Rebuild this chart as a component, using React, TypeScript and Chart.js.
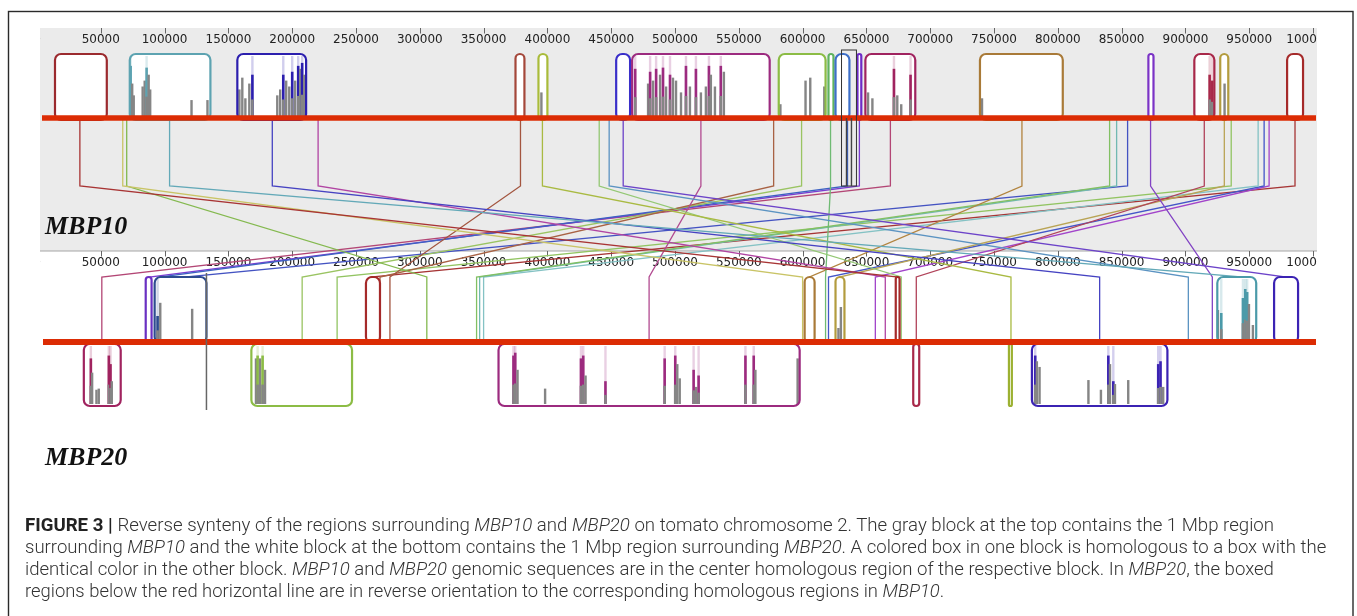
import React, { useEffect, useRef } from "react";
import { Chart, registerables } from "chart.js";
Chart.register(...registerables);

// ---------------- DATA ----------------
const TICK_VALUES = [0, 50000, 100000, 150000, 200000, 250000, 300000, 350000, 400000, 450000, 500000,
  550000, 600000, 650000, 700000, 750000, 800000, 850000, 900000, 950000, 1000000];

// Locally collinear blocks: [start bp, end bp, colour key]
const MBP10_BLOCKS: [number, number, string][] = [
  [14100, 54700, "darkred"],
  [72700, 135900, "teal"],
  [157000, 210900, "indigo"],
  [375000, 382000, "rust"],
  [393000, 400000, "yellowgreen"],
  [453900, 464800, "blue"],
  [466400, 574200, "magenta"],
  [581300, 618000, "green"],
  [620300, 624200, "mint"],
  [625800, 636700, "sky"],
  [643000, 646000, "purple"],
  [649200, 688300, "wine"],
  [739000, 803900, "brown"],
  [871000, 875000, "violet"],
  [907000, 922700, "crimson"],
  [927300, 933600, "olive"],
  [979700, 992200, "red"],
];
const MBP20_FORWARD_BLOCKS: [number, number, string][] = [
  [85200, 89800, "purpleB"],
  [92200, 132800, "navy"],
  [257800, 268800, "red"],
  [601600, 609400, "brown"],
  [625800, 632800, "olive"],
  [673000, 676000, "red"],
  [925000, 955500, "tealB"],
  [969500, 988300, "indigo2"],
];
const MBP20_REVERSE_BLOCKS: [number, number, string][] = [
  [36700, 65600, "wine"],
  [168000, 246900, "green"],
  [361700, 597700, "magenta"],
  [686700, 691400, "crimson"],
  [761700, 764000, "lime"],
  [779700, 885900, "indigo2"],
];

// similarity profile bars: [bp, relative height, inside aligned colour (1) or grey (0)]
const MBP10_PROFILE: [number, number, number][] = [
  [73400, 0.85, 1], [74600, 0.55, 0], [75800, 0.35, 0], [82800, 0.5, 0], [84400, 0.6, 0], [85900, 0.82, 1],
  [87500, 0.7, 0], [88700, 0.45, 0], [121100, 0.27, 0], [133600, 0.27, 0],
  [158600, 0.45, 0], [160900, 0.65, 0], [163300, 0.3, 0], [166400, 0.55, 0], [168800, 0.7, 1], [188300, 0.35, 0],
  [190600, 0.45, 0], [193000, 0.7, 1], [195300, 0.6, 0], [197700, 0.5, 0], [200000, 0.75, 1], [202300, 0.6, 0],
  [204700, 0.85, 1], [206300, 0.8, 0], [207800, 0.9, 1], [209400, 0.7, 0],
  [395300, 0.4, 0],
  [468800, 0.8, 1], [478900, 0.55, 0], [480500, 0.75, 1], [482800, 0.6, 0], [485200, 0.8, 1], [488300, 0.7, 0],
  [490600, 0.82, 1], [493000, 0.5, 0], [496100, 0.7, 1], [498400, 0.65, 0], [500800, 0.6, 0], [504700, 0.4, 0],
  [508600, 0.85, 1], [511700, 0.5, 0], [516400, 0.8, 1], [520300, 0.4, 0], [524200, 0.5, 0], [526600, 0.85, 1],
  [528100, 0.7, 0], [531300, 0.5, 0], [535900, 0.85, 1], [538300, 0.75, 0],
  [582600, 0.2, 0], [602300, 0.6, 0], [606000, 0.65, 0], [617000, 0.5, 0],
  [651300, 0.4, 0], [654700, 0.3, 0], [671600, 0.8, 1], [674200, 0.35, 0], [677300, 0.2, 0], [684600, 0.7, 1],
  [740600, 0.3, 0],
  [919000, 0.7, 1], [921100, 0.6, 1],
  [930700, 0.55, 0],
];
const MBP20_FORWARD_PROFILE: [number, number, number][] = [
  [94500, 0.4, 1], [96600, 0.62, 0], [121600, 0.52, 0],
  [628100, 0.2, 0], [630000, 0.55, 0],
  [925500, 0.5, 0], [928100, 0.45, 1], [945100, 0.7, 1], [946900, 0.85, 1], [948400, 0.8, 1], [949800, 0.6, 0],
  [952900, 0.25, 0],
];
const MBP20_REVERSE_PROFILE: [number, number, number][] = [
  [42200, 0.8, 1], [43200, 0.55, 0], [46600, 0.25, 0], [48400, 0.27, 0], [56300, 0.85, 1], [57600, 0.7, 1], [58600, 0.4, 0],
  [171600, 0.8, 0], [172900, 0.85, 1], [174800, 0.8, 0], [176800, 0.85, 1], [178700, 0.6, 0],
  [373400, 0.85, 1], [374800, 0.9, 1], [376600, 0.6, 0], [398200, 0.27, 0], [426300, 0.8, 1], [428100, 0.85, 1],
  [429900, 0.5, 0], [445500, 0.4, 1], [491900, 0.8, 1], [500200, 0.85, 1], [501800, 0.7, 0], [503700, 0.45, 0],
  [514600, 0.6, 1], [516600, 0.3, 0], [518500, 0.5, 1], [555200, 0.85, 1], [561700, 0.85, 1], [563000, 0.6, 0],
  [596100, 0.8, 0],
  [782300, 0.85, 1], [783600, 0.75, 0], [785700, 0.65, 0], [824000, 0.42, 0], [833800, 0.25, 0], [839600, 0.85, 1],
  [840900, 0.7, 0], [843500, 0.4, 1], [844800, 0.35, 0], [855200, 0.42, 0], [878700, 0.7, 1], [880500, 0.75, 1],
  [882600, 0.3, 0],
];

// homology connectors: position in MBP10 -> position in MBP20
const LINK_MBP10 = [33600, 67200, 70300, 103900, 184400, 220300, 378900, 396100, 440600, 448400, 459400, 520300,
  577300, 599200, 621900, 635200, 644500, 668800, 771900, 840600, 846100, 854700, 872700, 914800, 930500, 935900,
  957000, 961700, 965600, 985900];
const LINK_MBP20 = [675000, 600000, 305500, 945300, 832800, 664800, 276600, 763300, 677300, 902300, 978900, 479700,
  268800, 207800, 618000, 96100, 88300, 50800, 605500, 344500, 346900, 115600, 921100, 689100, 628900, 235200,
  350000, 620300, 657000, 261700];

// selection cursor (bp)
const CURSOR_MBP10 = [630500, 634400, 638300, 642200];
const CURSOR_MBP20 = 132800;

const TRACK_LABELS = ["MBP10", "MBP20"];

const CAPTION: [string, string][][] = [
  [["b", "FIGURE 3 | "], ["n", "Reverse synteny of the regions surrounding "], ["i", "MBP10"], ["n", " and "], ["i", "MBP20"],
    ["n", " on tomato chromosome 2. The gray block at the top contains the 1 Mbp region"]],
  [["n", "surrounding "], ["i", "MBP10"], ["n", " and the white block at the bottom contains the 1 Mbp region surrounding "],
    ["i", "MBP20"], ["n", ". A colored box in one block is homologous to a box with the"]],
  [["n", "identical color in the other block. "], ["i", "MBP10"], ["n", " and "], ["i", "MBP20"],
    ["n", " genomic sequences are in the center homologous region of the respective block. In "], ["i", "MBP20"], ["n", ", the boxed"]],
  [["n", "regions below the red horizontal line are in reverse orientation to the corresponding homologous regions in "],
    ["i", "MBP10"], ["n", "."]],
];

// ---------------- STYLE ----------------
const COLORS: Record<string, string> = {
  darkred: "#9b2a2e", teal: "#5da3b1", indigo: "#2c1fae", rust: "#a4473a", yellowgreen: "#a9bb3a",
  blue: "#3a2fc9", magenta: "#9c2b7f", green: "#8cbc45", mint: "#5fb35f", sky: "#3d6fc8", purple: "#6d2ac6",
  wine: "#a0235f", brown: "#a97a38", violet: "#7b33c6", crimson: "#a82849", olive: "#b39c3e", red: "#a52a2a",
  navy: "#2d4b8f", indigo2: "#3b23b3", tealB: "#4b9aa9", lime: "#9cb132", purpleB: "#6a30c2",
};
const LINK_COLORS = ["#a83434", "#c9c466", "#84b94f", "#63a9b8", "#4643c2", "#b144a3", "#a3553f", "#a9ba42",
  "#94c874", "#5b93c2", "#6c43c9", "#b24b91", "#a86244", "#9ac462", "#6fba73", "#3d62c2", "#7b3dd1", "#b34675",
  "#b2843f", "#82c063", "#72b9b2", "#4453c2", "#8243c4", "#b1435a", "#b9a455", "#92c462", "#84c2c4", "#4355c8",
  "#a244ca", "#a63535"];
const RED_LINE = "#dc2c04";
const PANEL_GREY = "#ebebeb";
const PROFILE_GREY = "#858585";

// vertical levels (y scale units)
const LV = {
  panelTop: 0, tickEnd: 5.5, label1: 14.5, boxTop: 26, topBarBase: 88, topRed: 90, topBoxBot: 92,
  cursorTop: 22, topBend: 158, axis2: 223, tick2End: 228.5, label2: 238, botBend: 249,
  cursor2Top: 245, fwdBarBase: 312, botRed: 314, fwdBot: 315, revTop: 316, revBarBase: 376, revBot: 378,
  bottom: 382, name1: 206, name2: 437,
};
const CAPTION_TOPS = [515, 537, 559, 581];
const CAPTION_RIGHT = [1274, 1326, 1274, 944];
const CAPTION_LEFT = 25;

function hexA(hex: string, a: number) {
  const n = parseInt(hex.slice(1), 16);
  return `rgba(${(n >> 16) & 255},${(n >> 8) & 255},${n & 255},${a})`;
}

const figurePlugin = {
  id: "mauveFigure",
  beforeDatasetsDraw(chart: any) {
    const { ctx } = chart;
    const xs = chart.scales.x, ys = chart.scales.y;
    const X = (v: number) => xs.getPixelForValue(v);
    const Y = (v: number) => ys.getPixelForValue(v);
    const pL = X(0) + 3, pR = X(1000000) + 4;
    ctx.save();
    // frame
    ctx.strokeStyle = "#2a2a2a";
    ctx.lineWidth = 1.4;
    ctx.strokeRect(8.5, 11.5, 1344.5, 640);
    // grey MBP10 panel
    ctx.fillStyle = PANEL_GREY;
    ctx.fillRect(pL, Y(LV.panelTop), pR - pL, Y(LV.axis2) - Y(LV.panelTop));
    // second axis line
    ctx.strokeStyle = "#a5a5a5";
    ctx.lineWidth = 1.2;
    ctx.beginPath();
    ctx.moveTo(pL, Y(LV.axis2));
    ctx.lineTo(pR, Y(LV.axis2));
    ctx.stroke();
    // tick labels (clipped to panel)
    ctx.beginPath();
    ctx.rect(pL, 0, pR - pL, 616);
    ctx.clip();
    ctx.font = '12px "DejaVu Sans"';
    ctx.textAlign = "center";
    ctx.textBaseline = "alphabetic";
    ctx.fillStyle = "#222";
    for (const v of TICK_VALUES) {
      const x = X(v);
      ctx.fillText(String(v), x, Y(LV.label1));
      ctx.fillText(String(v), x, Y(LV.label2));
    }
    ctx.strokeStyle = "#666";
    ctx.lineWidth = 1;
    for (const v of TICK_VALUES) {
      const x = Math.round(X(v)) + 0.5;
      ctx.beginPath();
      ctx.moveTo(x, Y(LV.panelTop));
      ctx.lineTo(x, Y(LV.tickEnd));
      ctx.moveTo(x, Y(LV.axis2));
      ctx.lineTo(x, Y(LV.tick2End));
      ctx.stroke();
    }
    ctx.restore();
  },
  afterDatasetsDraw(chart: any) {
    const { ctx } = chart;
    const xs = chart.scales.x, ys = chart.scales.y;
    const X = (v: number) => xs.getPixelForValue(v);
    const Y = (v: number) => ys.getPixelForValue(v);
    ctx.save();

    const drawTrack = (blocks: [number, number, string][], profile: [number, number, number][],
      top: number, bot: number, base: number) => {
      const yT = Y(top), yB = Y(bot), yBase = Y(base);
      for (const [s, e, key] of blocks) {
        const col = COLORS[key];
        const x1 = X(s), x2 = X(e);
        const w = Math.max(x2 - x1, 2.5);
        const r = Math.min(6, w / 2);
        ctx.beginPath();
        ctx.roundRect(x1, yT, w, yB - yT, r);
        ctx.fillStyle = "#fff";
        ctx.fill();
        const bars = profile.filter(p => p[0] >= s && p[0] <= e);
        const hMax = yBase - yT - 3;
        for (const [bp, h, c] of bars) {
          if (c) {
            ctx.fillStyle = hexA(col, 0.22);
            ctx.fillRect(X(bp) - 1.2, yT + 2, 2.4, yBase - yT - 2);
          }
        }
        for (const [bp, h, c] of bars) {
          const x = X(bp);
          const bh = h * hMax;
          if (c) {
            ctx.fillStyle = col;
            ctx.fillRect(x - 1.3, yBase - bh, 2.6, bh);
            ctx.fillStyle = PROFILE_GREY;
            ctx.fillRect(x - 1.3, yBase - bh * 0.4, 2.6, bh * 0.4);
          } else {
            ctx.fillStyle = PROFILE_GREY;
            ctx.fillRect(x - 1.2, yBase - bh, 2.4, bh);
          }
        }
        ctx.beginPath();
        ctx.roundRect(x1, yT, w, yB - yT, r);
        ctx.strokeStyle = col;
        ctx.lineWidth = 2.2;
        ctx.stroke();
      }
    };

    drawTrack(MBP10_BLOCKS, MBP10_PROFILE, LV.boxTop, LV.topBoxBot, LV.topBarBase);
    drawTrack(MBP20_FORWARD_BLOCKS, MBP20_FORWARD_PROFILE, LV.botBend, LV.fwdBot, LV.fwdBarBase);
    drawTrack(MBP20_REVERSE_BLOCKS, MBP20_REVERSE_PROFILE, LV.revTop, LV.revBot, LV.revBarBase);

    // red genome lines
    const lx1 = X(0) + 5, lx2 = X(1000000) + 3;
    ctx.strokeStyle = RED_LINE;
    ctx.lineCap = "butt";
    ctx.lineWidth = 5.5;
    ctx.beginPath();
    ctx.moveTo(lx1, Y(LV.topRed));
    ctx.lineTo(lx2, Y(LV.topRed));
    ctx.stroke();
    ctx.lineWidth = 6;
    ctx.beginPath();
    ctx.moveTo(lx1 + 1, Y(LV.botRed));
    ctx.lineTo(lx2, Y(LV.botRed));
    ctx.stroke();

    // cursor
    ctx.strokeStyle = "#333";
    ctx.lineWidth = 1;
    const cx = CURSOR_MBP10.map(X);
    ctx.strokeRect(cx[0], Y(LV.cursorTop), cx[3] - cx[0], Y(LV.topBend) - Y(LV.cursorTop));
    ctx.strokeStyle = "#444";
    ctx.lineWidth = 1.4;
    ctx.beginPath();
    for (const x of [cx[1], cx[2]]) {
      ctx.moveTo(x, Y(LV.topRed));
      ctx.lineTo(x, Y(LV.topBend));
    }
    ctx.stroke();
    ctx.strokeStyle = "#666";
    ctx.lineWidth = 1.5;
    ctx.beginPath();
    ctx.moveTo(X(CURSOR_MBP20), Y(LV.cursor2Top));
    ctx.lineTo(X(CURSOR_MBP20), Y(LV.bottom));
    ctx.stroke();

    // genome names
    ctx.fillStyle = "#111";
    ctx.font = 'italic bold 26px "Liberation Serif"';
    ctx.textAlign = "left";
    ctx.textBaseline = "alphabetic";
    ctx.fillText(TRACK_LABELS[0], 45, Y(LV.name1));
    ctx.fillText(TRACK_LABELS[1], 45, Y(LV.name2));
    ctx.restore();
  },
};

export default function App() {
  const canvasRef = useRef<HTMLCanvasElement | null>(null);
  const lineRefs = useRef<(HTMLDivElement | null)[]>([]);

  useEffect(() => {
    const datasets = LINK_MBP10.map((t, i) => ({
      data: [
        { x: t, y: LV.topRed },
        { x: t, y: LV.topBend },
        { x: LINK_MBP20[i], y: LV.botBend },
        { x: LINK_MBP20[i], y: LV.botRed },
      ],
      showLine: true,
      borderColor: LINK_COLORS[i],
      borderWidth: 1.3,
      pointRadius: 0,
      tension: 0,
      fill: false,
    }));
    const chart = new Chart(canvasRef.current as HTMLCanvasElement, {
      type: "scatter",
      data: { datasets },
      options: {
        responsive: false,
        animation: false,
        events: [],
        layout: { padding: { left: 37, right: 44, top: 28, bottom: 206 } },
        plugins: { legend: { display: false }, tooltip: { enabled: false } },
        scales: {
          x: { type: "linear", min: 0, max: 1000000, display: false },
          y: { type: "linear", min: 0, max: LV.bottom, reverse: true, display: false },
        },
      },
      plugins: [figurePlugin],
    } as any);

    lineRefs.current.forEach((el, i) => {
      if (!el) return;
      el.style.transform = "none";
      const w = el.offsetWidth;
      const target = CAPTION_RIGHT[i] - CAPTION_LEFT;
      if (w > 0) el.style.transform = `scaleX(${target / w})`;
    });

    return () => chart.destroy();
  }, []);

  return (
    <div style={{ position: "absolute", left: 0, top: 0, width: 1357, height: 616, background: "#fff", overflow: "hidden" }}>
      <canvas ref={canvasRef} width={1357} height={616} style={{ position: "absolute", left: 0, top: 0, width: 1357, height: 616 }} />
      {CAPTION.map((line, i) => (
        <div
          key={i}
          ref={el => { lineRefs.current[i] = el; }}
          style={{
            position: "absolute", left: CAPTION_LEFT, top: CAPTION_TOPS[i], whiteSpace: "nowrap",
            fontFamily: 'Roboto, "Liberation Sans", sans-serif', fontSize: 19, fontWeight: 300, lineHeight: "19px",
            color: "#333", transformOrigin: "0 0", display: "inline-block",
          }}
        >
          {line.map(([k, t], j) => (
            <span key={j} style={k === "b" ? { fontWeight: 700, color: "#222" } : k === "i" ? { fontStyle: "italic" } : undefined}>{t}</span>
          ))}
        </div>
      ))}
    </div>
  );
}
